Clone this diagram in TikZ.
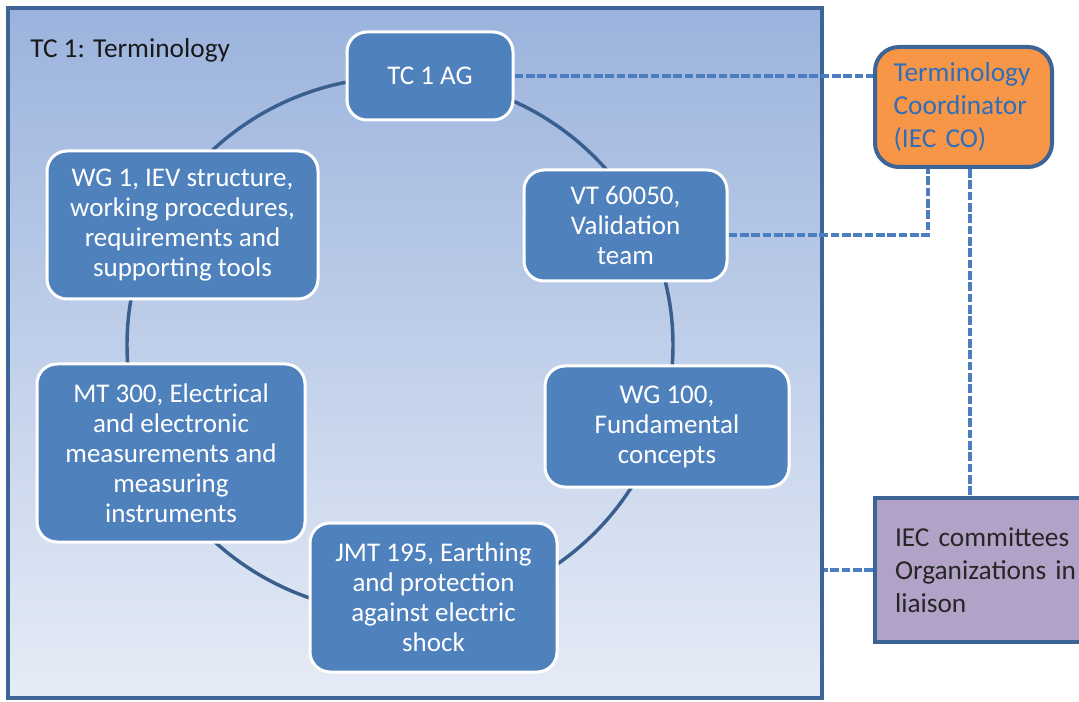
\documentclass[tikz,border=0pt]{standalone}
\usepackage{fontspec}
\setmainfont{Carlito}
\definecolor{frameblue}{HTML}{3C6497}
\definecolor{unitblue}{HTML}{4F81BD}
\definecolor{ringblue}{HTML}{3A5F8F}
\definecolor{linkblue}{HTML}{4A7EC0}
\definecolor{coordorange}{HTML}{F79646}
\definecolor{liaisonpurple}{HTML}{B3A2C7}
\definecolor{coordtext}{HTML}{2F6EBA}
\definecolor{shadetop}{HTML}{9BB3DD}
\definecolor{shadebottom}{HTML}{E6ECF6}
\tikzset{
  tcframe/.style={rectangle, draw=frameblue, line width=3pt, top color=shadetop, bottom color=shadebottom, minimum width=610.5pt, minimum height=517.5pt, inner sep=0pt},
  unit/.style={rectangle, rounded corners=15pt, draw=white, line width=2.25pt, fill=unitblue, text=white, align=center, font=\fontsize{20.25}{22.5}\selectfont, inner sep=2pt},
  coordbox/.style={rectangle, rounded corners=18pt, draw=frameblue, line width=3pt, fill=coordorange, text=coordtext, align=left, text width=104.75pt, inner xsep=14pt, minimum height=90pt, font=\fontsize{20.5}{24.75}\selectfont},
  liaisonbox/.style={rectangle, draw=frameblue, line width=3pt, fill=liaisonpurple, text=black!85, align=left, text width=138.75pt, inner xsep=15pt, minimum height=108pt, font=\fontsize{20.5}{24.75}\selectfont},
  link/.style={linkblue, line width=2.4pt, dash pattern=on 6.5pt off 2pt},
}
\begin{document}
\begin{tikzpicture}[x=0.75pt, y=-0.75pt]
  \clip (0,0) rectangle (1079,702);
  \node[tcframe] (tc) at (415,353) {};
  \node[anchor=west, inner sep=0pt, text=black!90, font=\fontsize{20.5}{24}\selectfont] (title) at (30,50) {TC 1: Terminology};
  \draw[ringblue, line width=2.6pt] (400,345) ellipse [x radius=273, y radius=268];
  \node[unit, minimum width=124.5pt, minimum height=66pt] (tcag) at (430,76) {TC 1 AG};
  \node[unit, minimum width=152.25pt, minimum height=83.25pt] (vt) at (625.5,225.5) {VT 60050,\\Validation\\team};
  \node[unit, minimum width=183pt, minimum height=90.75pt] (wgfund) at (667,426.5) {WG 100,\\Fundamental\\concepts};
  \node[unit, minimum width=185.25pt, minimum height=111.75pt] (jmt) at (433.5,597.5) {JMT 195, Earthing\\and protection\\against electric\\shock};
  \node[unit, minimum width=201pt, minimum height=133.5pt] (mt) at (171,453) {MT 300, Electrical\\and electronic\\measurements and\\measuring\\instruments};
  \node[unit, minimum width=203.25pt, minimum height=111pt] (wgiev) at (182.5,225) {WG 1, IEV structure,\\working procedures,\\requirements and\\supporting tools};
  \node[coordbox] (coord) at (963.5,107) {Terminology\\Coordinator\\(IEC CO)};
  \node[liaisonbox] (iec) at (987.5,570) {IEC committees\\Organizations in\\liaison};
  \coordinate (bend) at (928,235);
  \coordinate (drop) at (970,167);
  \draw[link] (tcag.east) -- (tcag.east -| coord.west);
  \draw[link] (vt.east |- bend) -- (bend) -- (bend |- coord.south);
  \draw[link] (drop |- coord.south) -- (drop |- iec.north);
  \draw[link] (iec.west) -- (iec.west -| tc.east);
\end{tikzpicture}
\end{document}
